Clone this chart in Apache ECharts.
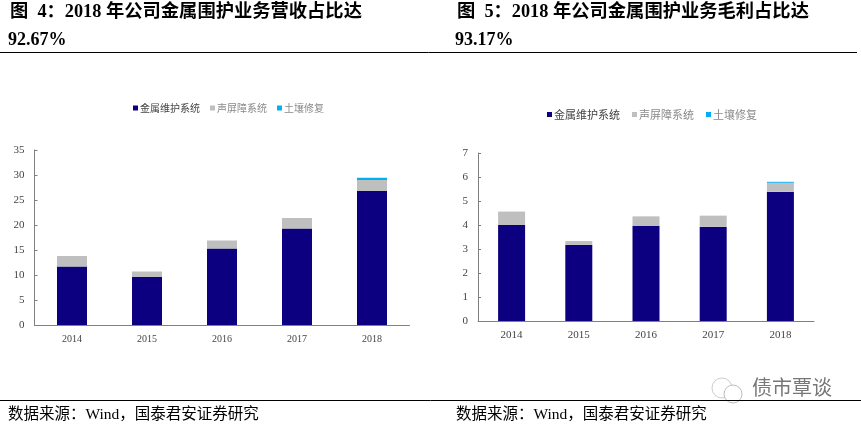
<!DOCTYPE html>
<html><head><meta charset="utf-8">
<style>html,body{margin:0;padding:0;background:#fff}#c{width:861px;height:427px}</style>
<script src="https://cdn.jsdelivr.net/npm/echarts@6/dist/echarts.min.js"></script>
</head><body><div id="c"></div>
<script>
const categories = ['2014','2015','2016','2017','2018'];
const seriesNames = ['金属维护系统','声屏障系统','土壤修复'];
const revMetal = [11.7, 9.6, 15.3, 19.3, 26.8];
const revSound = [2.1, 1.1, 1.6, 2.1, 2.2];
const revSoil  = [0, 0, 0, 0, 0.45];
const gpMetal = [4.0, 3.17, 3.97, 3.92, 5.38];
const gpSound = [0.56, 0.16, 0.39, 0.47, 0.38];
const gpSoil  = [0, 0, 0, 0, 0.04];
const titleLeft = ['图  4\uFF1A2018 年公司金属围护业务营收占比达','92.67%'];
const titleRight = ['图  5\uFF1A2018 年公司金属围护业务毛利占比达','93.17%'];
const sourceText = '数据来源\uFF1AWind\uFF0C国泰君安证券研究';
const watermark = '债市覃谈';
const colors = ['#0c0080','#bfbfbf','#00b0f0'];
const SERIF = '"Liberation Serif","Noto Sans CJK SC",serif';

function legend(idx,left,top,size,gap){
  return {left,top,itemWidth:5,itemHeight:5,itemGap:gap,icon:'rect',
    selectedMode:false,padding:0,
    textStyle:{fontFamily:'"Noto Sans CJK SC",sans-serif',fontSize:size,padding:[0,0,0,-3]},
    data:seriesNames.map((n,i)=>({name:n,textStyle:{color:i===0?'#444':'#8a8a8a'}}))};
}
function xAxis(g,size){return {type:'category',gridIndex:g,data:categories,
  axisLine:{lineStyle:{color:'#808080',width:1}},
  axisTick:{inside:true,length:3,lineStyle:{color:'#808080'}},
  axisLabel:{fontFamily:SERIF,fontSize:size,color:'#444',margin:9}};}
function yAxis(g,max,interval,size){return {type:'value',gridIndex:g,min:0,max,interval,
  splitLine:{show:false},
  axisLine:{show:true,lineStyle:{color:'#808080',width:1}},
  axisTick:{show:true,inside:true,length:3,lineStyle:{color:'#808080'}},
  axisLabel:{fontFamily:SERIF,fontSize:size,color:'#444',margin:10}};}
function bars(g,w,arrs){return arrs.map((d,i)=>({type:'bar',name:seriesNames[i],stack:'s'+g,
  xAxisIndex:g,yAxisIndex:g,data:d,barWidth:w,itemStyle:{color:colors[i]},
  emphasis:{disabled:true},animation:false}));}
function txt(x,y,text,size,weight,color){return {type:'text',x,y,silent:true,style:{text,
  fontFamily:SERIF,fontSize:size,fontWeight:weight||'normal',fill:color||'#000',
  textVerticalAlign:'middle',verticalAlign:'middle'}};}
function rule(x1,x2,y){return {type:'line',silent:true,shape:{x1,y1:y,x2,y2:y},style:{stroke:'#000',lineWidth:1}};}

const chart = echarts.init(document.getElementById('c'),null,{renderer:'canvas'});
chart.setOption({
  animation:false,
  color:colors,
  legend:[legend(0,133,103,10,10),legend(1,547,109,11,12)],
  grid:[{left:34.5,top:150,width:375,height:175},{left:478,top:153,width:336,height:168}],
  xAxis:[xAxis(0,10),xAxis(1,11)],
  yAxis:[yAxis(0,35,5,11),yAxis(1,7,1,11)],
  series:[...bars(0,30,[revMetal,revSound,revSoil]),...bars(1,27,[gpMetal,gpSound,gpSoil])],
  graphic:[
    txt(10,12,titleLeft[0],18.3,'bold'),txt(8,40,titleLeft[1],18,'bold'),
    txt(457,12,titleRight[0],18.3,'bold'),txt(455,40,titleRight[1],18,'bold'),
    txt(8,415,sourceText,15.5),txt(456,415,sourceText,15.5),
    txt(752,390,watermark,20,'normal','#777'),
    {type:'circle',silent:true,shape:{cx:722,cy:388,r:10},style:{fill:'none',stroke:'#ccc',lineWidth:1}},
    {type:'circle',silent:true,shape:{cx:733,cy:394,r:9},style:{fill:'#fff',stroke:'#bbb',lineWidth:1}},
    rule(0,857,52.5),rule(0,861,400.5)
  ]
});
</script></body></html>
